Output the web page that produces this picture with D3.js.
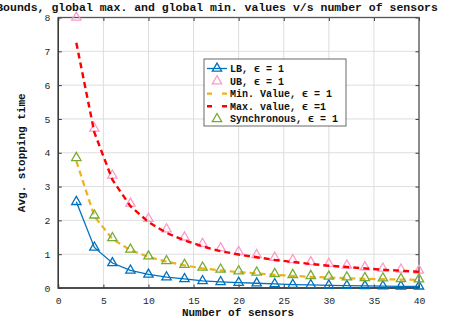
<!DOCTYPE html>
<html>
<head>
<meta charset="utf-8">
<script src="https://cdn.jsdelivr.net/npm/d3@7"></script>
<style>
  body { margin: 0; background: #fff; }
  text { font-family: "Liberation Mono", "DejaVu Sans Mono", monospace; }
</style>
</head>
<body>
<script>
// values
const sensors = [2, 4, 6, 8, 10, 12, 14, 16, 18, 20, 22, 24, 26, 28, 30, 32, 34, 36, 38, 40];
const lbValues = [2.55, 1.2, 0.74, 0.52, 0.4, 0.32, 0.27, 0.21, 0.18, 0.16, 0.14, 0.12, 0.1, 0.09, 0.08, 0.07, 0.06, 0.055, 0.05, 0.05];
const ubValues = [8.0, 4.72, 3.33, 2.5, 2.05, 1.74, 1.5, 1.31, 1.18, 1.07, 0.98, 0.9, 0.83, 0.77, 0.72, 0.67, 0.62, 0.58, 0.55, 0.52];
const maxValues = [7.25, 4.6, 3.2, 2.42, 1.95, 1.63, 1.41, 1.23, 1.09, 0.99, 0.91, 0.83, 0.77, 0.71, 0.66, 0.62, 0.58, 0.54, 0.51, 0.48];
const minValues = [3.75, 2.12, 1.45, 1.12, 0.92, 0.78, 0.67, 0.58, 0.52, 0.47, 0.43, 0.39, 0.36, 0.33, 0.31, 0.29, 0.27, 0.26, 0.25, 0.24];
const syncValues = [3.85, 2.15, 1.48, 1.14, 0.94, 0.8, 0.69, 0.61, 0.55, 0.5, 0.46, 0.42, 0.39, 0.36, 0.34, 0.32, 0.3, 0.29, 0.27, 0.26];
const xTicks = [0, 5, 10, 15, 20, 25, 30, 35, 40];
const yTicks = [0, 1, 2, 3, 4, 5, 6, 7, 8];

function drawChart() {
  const width = 456, height = 326;
  const pLeft = 58.3, pRight = 419, pTop = 17.5, pBottom = 288;

  const svg = d3.select("body").append("svg")
    .attr("width", width)
    .attr("height", height);

  const x = d3.scaleLinear().domain([0, 40]).range([pLeft, pRight]);
  const y = d3.scaleLinear().domain([0, 8]).range([pBottom, pTop]);

  // grid
  const grid = svg.append("g");
  grid.selectAll(".gx").data(xTicks).join("line")
    .attr("x1", d => x(d)).attr("x2", d => x(d))
    .attr("y1", pTop).attr("y2", pBottom)
    .attr("stroke", "#dedede").attr("stroke-width", 1);
  grid.selectAll(".gy").data(yTicks).join("line")
    .attr("x1", pLeft).attr("x2", pRight)
    .attr("y1", d => y(d)).attr("y2", d => y(d))
    .attr("stroke", "#dedede").attr("stroke-width", 1);

  // axes (box on, ticks inside)
  const axisColor = "#3a3a3a";
  function styleAxis(g) {
    g.select(".domain").remove();
    g.selectAll(".tick line").attr("stroke", axisColor).attr("stroke-width", 1);
    g.selectAll(".tick text").attr("fill", "#262626")
      .style("font-size", "9.8px").style("font-weight", "normal");
  }
  svg.append("g").attr("transform", `translate(0,${pBottom})`)
    .call(d3.axisBottom(x).tickValues(xTicks).tickSizeInner(-3.5).tickSizeOuter(0).tickPadding(9))
    .call(styleAxis);
  svg.append("g").attr("transform", `translate(0,${pTop})`)
    .call(d3.axisTop(x).tickValues(xTicks).tickSizeInner(-3.5).tickSizeOuter(0).tickFormat(""))
    .call(styleAxis);
  svg.append("g").attr("transform", `translate(${pLeft},0)`)
    .call(d3.axisLeft(y).tickValues(yTicks).tickSizeInner(-3.5).tickSizeOuter(0).tickPadding(8))
    .call(styleAxis);
  svg.append("g").attr("transform", `translate(${pRight},0)`)
    .call(d3.axisRight(y).tickValues(yTicks).tickSizeInner(-3.5).tickSizeOuter(0).tickFormat(""))
    .call(styleAxis);
  svg.append("rect")
    .attr("x", pLeft).attr("y", pTop)
    .attr("width", pRight - pLeft).attr("height", pBottom - pTop)
    .attr("fill", "none").attr("stroke", "#555").attr("stroke-width", 1.3);
  // darker left and bottom axis lines
  svg.append("path")
    .attr("d", `M${pLeft},${pTop}V${pBottom}H${pRight}`)
    .attr("fill", "none").attr("stroke", axisColor).attr("stroke-width", 1.4);

  const tri = d3.symbol().type(d3.symbolTriangle).size(38);
  const line = d3.line().x(d => x(d[0])).y(d => y(d[1]));
  const zip = vals => sensors.map((s, i) => [s, vals[i]]);

  const plot = svg.append("g");

  const series = [
    { name: "LB, \u03f5 = 1", vals: lbValues, color: "#0072BD", line: true, dash: null, lw: 1.3, marker: true },
    { name: "UB, \u03f5 = 1", vals: ubValues, color: "#FF99CC", line: false, marker: true },
    { name: "Min. Value, \u03f5 = 1", vals: minValues, color: "#EDB120", line: true, dash: "6,4", lw: 2.2, marker: false },
    { name: "Max. value, \u03f5 =1", vals: maxValues, color: "#FF0000", line: true, dash: "6,4", lw: 2.4, marker: false },
    { name: "Synchronous, \u03f5 = 1", vals: syncValues, color: "#77AC30", line: false, marker: true }
  ];

  series.forEach(s => {
    if (s.line) {
      plot.append("path").datum(zip(s.vals))
        .attr("d", line)
        .attr("fill", "none")
        .attr("stroke", s.color)
        .attr("stroke-width", s.lw)
        .attr("stroke-dasharray", s.dash);
    }
    if (s.marker) {
      plot.selectAll(null).data(zip(s.vals)).join("path")
        .attr("d", tri)
        .attr("transform", d => `translate(${x(d[0])},${y(d[1])})`)
        .attr("fill", "none")
        .attr("stroke", s.color)
        .attr("stroke-width", 1.3);
    }
  });

  // legend
  const lg = svg.append("g");
  lg.append("rect")
    .attr("x", 204).attr("y", 59)
    .attr("width", 142).attr("height", 67)
    .attr("fill", "#fff").attr("stroke", "#444").attr("stroke-width", 0.8);
  series.forEach((s, i) => {
    const ly = 68.5 + i * 12.6;
    if (s.line) {
      lg.append("line")
        .attr("x1", 207).attr("x2", 227)
        .attr("y1", ly).attr("y2", ly)
        .attr("stroke", s.color).attr("stroke-width", s.lw)
        .attr("stroke-dasharray", s.dash ? "5,10" : null);
    }
    if (s.marker) {
      lg.append("path").attr("d", tri)
        .attr("transform", `translate(217,${ly})`)
        .attr("fill", "none").attr("stroke", s.color).attr("stroke-width", 1.3);
    }
    lg.append("text")
      .attr("x", 230).attr("y", ly)
      .attr("dy", "0.35em")
      .style("font-size", "10px").style("font-weight", "bold")
      .attr("fill", "#111")
      .text(s.name);
  });

  // labels
  svg.append("text")
    .attr("x", 217).attr("y", 11)
    .attr("text-anchor", "middle")
    .style("font-size", "11.5px").style("font-weight", "bold")
    .attr("fill", "#111")
    .text("Bounds, global max. and global min. values v/s number of sensors");
  svg.append("text")
    .attr("x", 238).attr("y", 316)
    .attr("text-anchor", "middle")
    .style("font-size", "11px").style("font-weight", "bold")
    .attr("fill", "#111")
    .text("Number of sensors");
  svg.append("text")
    .attr("transform", `translate(25,${(pTop + pBottom) / 2}) rotate(-90)`)
    .attr("text-anchor", "middle")
    .style("font-size", "11px").style("font-weight", "bold")
    .attr("fill", "#111")
    .text("Avg. stopping time");
}

drawChart();
</script>
</body>
</html>
